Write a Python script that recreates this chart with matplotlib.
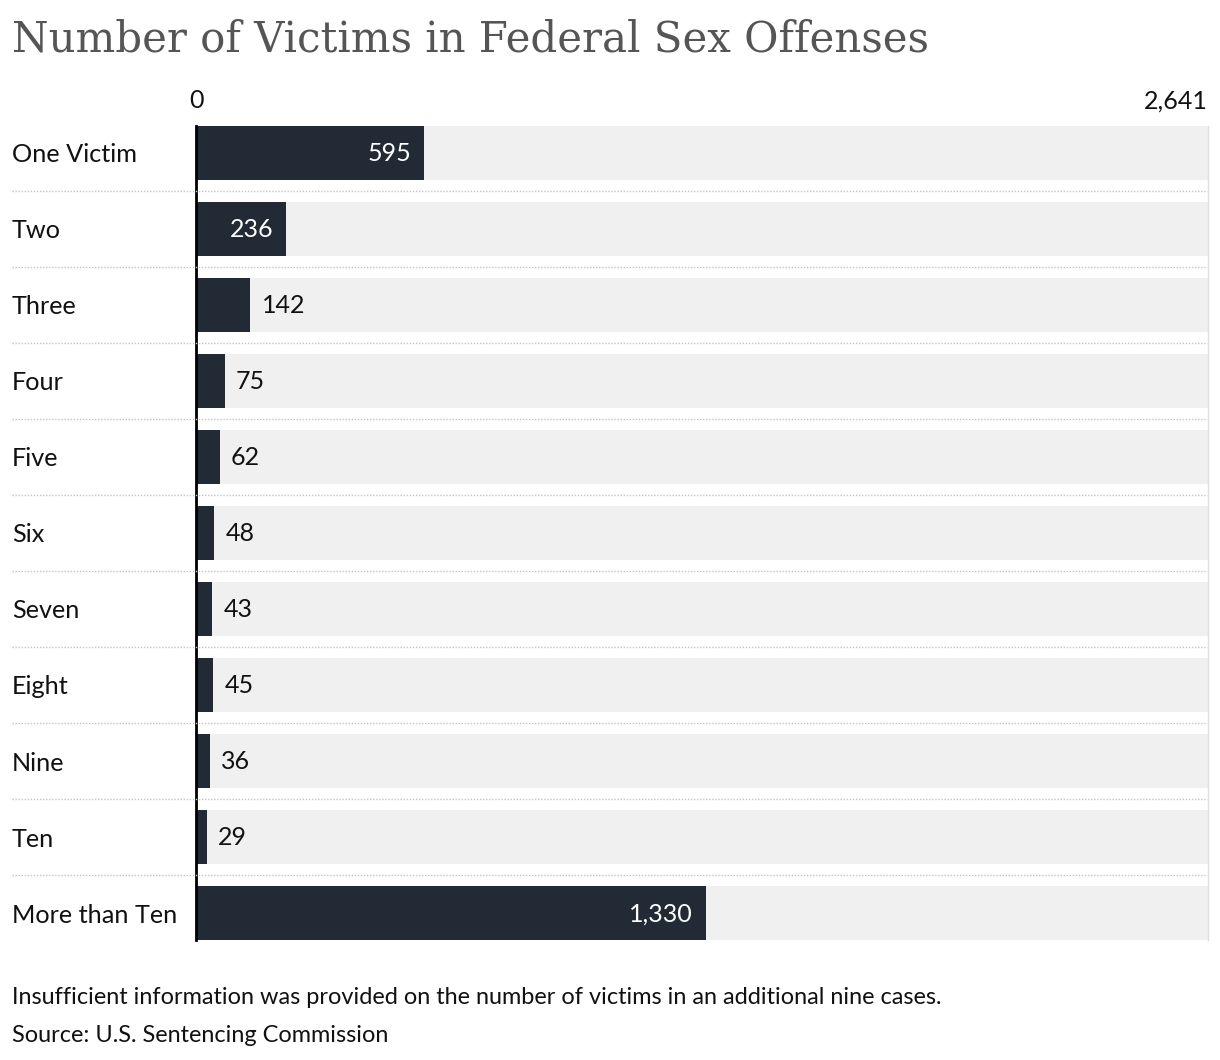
import matplotlib.pyplot as plt
import matplotlib.transforms as mtransforms
from matplotlib.lines import Line2D

categories = ["One Victim", "Two", "Three", "Four", "Five", "Six",
              "Seven", "Eight", "Nine", "Ten", "More than Ten"]
victims = [595, 236, 142, 75, 62, 48, 43, 45, 36, 29, 1330]
x_max = 2641

DARK = "#222a35"
BG = "#f0f0f0"

W, H = 1220, 1060
fig = plt.figure(figsize=(W / 100, H / 100), dpi=100)
plt.rcParams["font.family"] = ["Lato", "DejaVu Sans"]

# axes placed in pixel terms: x from 196 to 1208, rows from 115 to 951
ax = fig.add_axes([196 / W, 1 - 951 / H, (1208 - 196) / W, (951 - 115) / H])
ax.set_xlim(0, x_max)
ax.set_ylim(len(categories) - 0.5, -0.5)

bar_h = 54 / 76
ypos = list(range(len(categories)))
ax.barh(ypos, [x_max] * len(categories), height=bar_h, color=BG, zorder=1)
ax.barh(ypos, victims, height=bar_h, color=DARK, zorder=2)

for y, v in zip(ypos, victims):
    txt = f"{v:,}"
    if v > 200:
        ax.annotate(txt, (v, y), xytext=(-9, -0.7), textcoords="offset points",
                    ha="right", va="center", color="white", fontsize=18, zorder=3)
    else:
        ax.annotate(txt, (v, y), xytext=(8, -0.7), textcoords="offset points",
                    ha="left", va="center", color="#111111", fontsize=18, zorder=3)

for spine in ["top", "bottom"]:
    ax.spines[spine].set_visible(False)
lo, hi = -bar_h / 2, len(categories) - 1 + bar_h / 2
ax.spines["left"].set_linewidth(2)
ax.spines["left"].set_color("black")
ax.spines["left"].set_zorder(5)
ax.spines["left"].set_bounds(lo, hi)
ax.spines["right"].set_linewidth(1)
ax.spines["right"].set_color("#dddddd")
ax.spines["right"].set_bounds(lo, hi)
ax.set_xticks([])
ax.set_yticks([])

# row separators, from the left margin to the right edge
trans = mtransforms.blended_transform_factory(fig.transFigure, ax.transData)
for i in range(len(categories) - 1):
    fig.add_artist(Line2D([12 / W, 1207 / W], [i + 0.5, i + 0.5], transform=trans,
                          color="#c4c4c4", linestyle=(0, (1, 1.2)), linewidth=1))

# category labels
for y, name in zip(ypos, categories):
    fig.text(12 / W, y + 2 / 76, name, transform=trans, ha="left", va="center",
             fontsize=18.2, color="#111111")

# top axis labels
fig.text(196 / W, 1 - 101 / H, "0", ha="center", va="center", fontsize=18, color="#111111")
fig.text(1208 / W, 1 - 101 / H, f"{x_max:,}", ha="right", va="center", fontsize=18,
         color="#111111")

fig.text(12 / W, 1 - 40 / H, "Number of Victims in Federal Sex Offenses",
         ha="left", va="center", fontsize=30.2, color="#555555", family="DejaVu Serif")

fig.text(12 / W, 1 - 997 / H,
         "Insufficient information was provided on the number of victims in an additional nine cases.",
         ha="left", va="center", fontsize=16.9, color="#111111")
fig.text(12 / W, 1 - 1036 / H, "Source: U.S. Sentencing Commission",
         ha="left", va="center", fontsize=16.9, color="#111111")

fig.savefig("out.png", dpi=100)
